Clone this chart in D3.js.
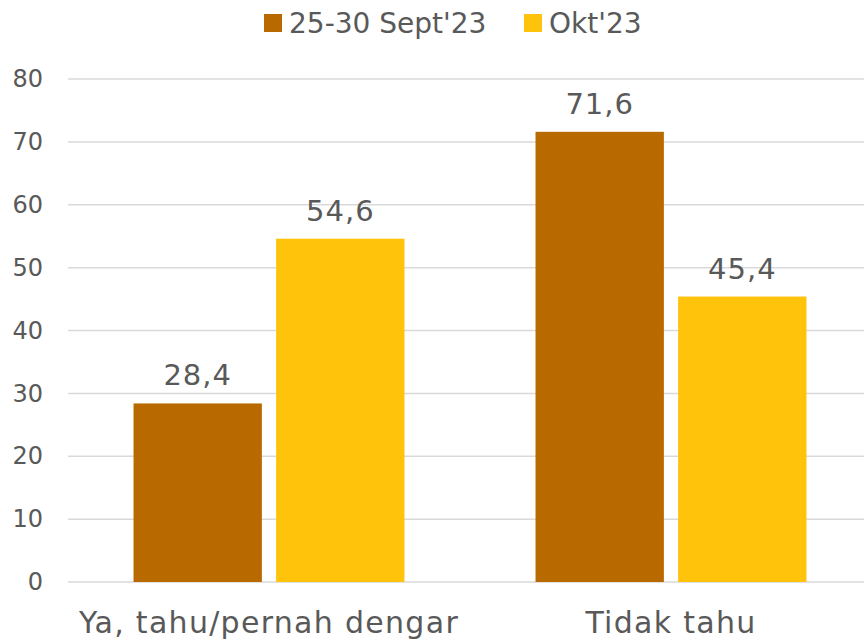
<!DOCTYPE html>
<html>
<head>
<meta charset="utf-8">
<script src="https://cdn.jsdelivr.net/npm/d3@7"></script>
<style>
  body { margin: 0; background: #fff; }
  text { font-family: "DejaVu Sans", sans-serif; fill: #595959; }
</style>
</head>
<body>
<div id="chart-area"></div>
<script>
// data
const categories = ["Ya, tahu/pernah dengar", "Tidak tahu"];
const seriesNames = ["25-30 Sept'23", "Okt'23"];
const sept = [28.4, 71.6];
const okt = [54.6, 45.4];
const yTicks = [0, 10, 20, 30, 40, 50, 60, 70, 80];

const colors = ["#B86A00", "#FFC30B"];

const W = 864, H = 642;
const margin = { left: 68, right: -8, top: 79, bottom: 60 };
const width = W - margin.left - margin.right,
    height = H - margin.top - margin.bottom;

const svg = d3.select("#chart-area")
    .append("svg")
    .attr("width", W)
    .attr("height", H);

const g = svg.append("g")
    .attr("transform", "translate(" + margin.left + ", " + margin.top + ")");

const y = d3.scaleLinear()
    .domain([0, 80])
    .range([height, 0]);

const x0 = d3.scaleBand()
    .domain(categories)
    .range([0, width])
    .paddingInner(0.326)
    .paddingOuter(0.163);

const x1 = d3.scaleBand()
    .domain(seriesNames)
    .range([0, x0.bandwidth()])
    .paddingInner(0.1);

// gridlines
g.selectAll(".grid")
    .data(yTicks)
    .enter()
    .append("line")
        .attr("x1", 0)
        .attr("x2", width)
        .attr("y1", d => y(d))
        .attr("y2", d => y(d))
        .attr("stroke", "#D9D9D9")
        .attr("stroke-width", 1.5);

// y tick labels
const yAxisCall = d3.axisLeft(y).tickValues(yTicks).tickSize(0).tickPadding(25);
const yAxis = g.append("g").call(yAxisCall);
yAxis.select(".domain").remove();
yAxis.selectAll("text")
    .attr("font-size", "24px")
    .attr("font-family", "DejaVu Sans")
    .attr("fill", "#595959");

// bars
const rows = categories.map((c, i) => ({ cat: c, vals: [sept[i], okt[i]] }));

const groups = g.selectAll(".cat")
    .data(rows)
    .enter()
    .append("g")
    .attr("transform", d => "translate(" + x0(d.cat) + ",0)");

groups.selectAll("rect")
    .data(d => d.vals.map((v, j) => ({ s: seriesNames[j], v: v, j: j })))
    .enter()
    .append("rect")
        .attr("x", d => x1(d.s))
        .attr("y", d => y(d.v))
        .attr("width", x1.bandwidth())
        .attr("height", d => height - y(d.v))
        .attr("fill", d => colors[d.j]);

groups.selectAll(".lbl")
    .data(d => d.vals.map((v, j) => ({ s: seriesNames[j], v: v })))
    .enter()
    .append("text")
        .attr("x", d => x1(d.s) + x1.bandwidth() / 2)
        .attr("y", d => y(d.v) - 18)
        .attr("text-anchor", "middle")
        .attr("font-size", "29px")
        .attr("letter-spacing", "1px")
        .text(d => d.v.toFixed(1).replace(".", ","));

// category labels
g.selectAll(".catlbl")
    .data(categories)
    .enter()
    .append("text")
        .attr("x", d => x0(d) + x0.bandwidth() / 2)
        .attr("y", height + 51)
        .attr("text-anchor", "middle")
        .attr("font-size", "30px")
        .attr("letter-spacing", "1.3px")
        .text(d => d);

// legend
const legend = svg.append("g");
const legX = [264, 524];
seriesNames.forEach((s, i) => {
    legend.append("rect")
        .attr("x", legX[i])
        .attr("y", 14)
        .attr("width", 18)
        .attr("height", 18)
        .attr("fill", colors[i]);
    legend.append("text")
        .attr("x", legX[i] + 25)
        .attr("y", 33)
        .attr("font-size", "28px")
        .text(s);
});
</script>
</body>
</html>
